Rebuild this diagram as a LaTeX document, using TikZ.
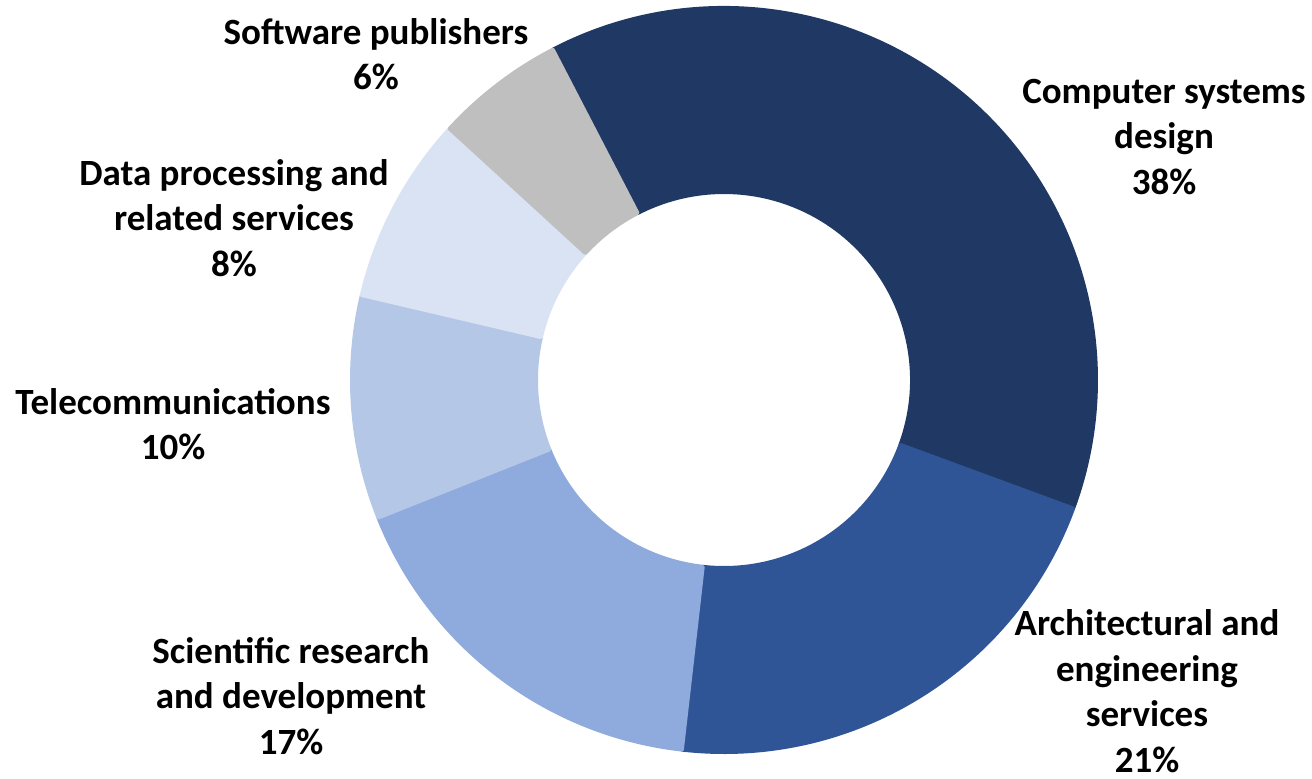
\documentclass[tikz,border=0pt]{standalone}
\usepackage{fontspec}
\setmainfont{Carlito}
\definecolor{csdblue}{HTML}{203864}
\definecolor{arcblue}{HTML}{2F5597}
\definecolor{sciblue}{HTML}{8FAADC}
\definecolor{telblue}{HTML}{B4C7E7}
\definecolor{datblue}{HTML}{DAE3F3}
\definecolor{swgray}{HTML}{BFBFBF}

\begin{document}
\begin{tikzpicture}[x=0.5pt,y=0.5pt,
    lbl/.style={align=center,inner sep=0pt,font=\fontsize{18.5}{22.8}\selectfont\bfseries},
    slice/.style={draw=white,line width=2pt,line join=round}]
            \useasboundingbox (0,0) rectangle (1312,778);
            \coordinate (c) at (724,398);
            % ring, clockwise from the top
            \fill[slice,csdblue] ([shift={(117.4:372)}]c) arc[start angle=117.4,end angle=-20.2,radius=186pt]
                -- ([shift={(-20.2:188)}]c) arc[start angle=-20.2,end angle=117.4,radius=94pt] -- cycle;
            \fill[slice,arcblue] ([shift={(-20.2:372)}]c) arc[start angle=-20.2,end angle=-96.5,radius=186pt]
                -- ([shift={(-96.5:188)}]c) arc[start angle=-96.5,end angle=-20.2,radius=94pt] -- cycle;
            \fill[slice,sciblue] ([shift={(-96.5:372)}]c) arc[start angle=-96.5,end angle=-158.3,radius=186pt]
                -- ([shift={(-158.3:188)}]c) arc[start angle=-158.3,end angle=-96.5,radius=94pt] -- cycle;
            \fill[slice,telblue] ([shift={(-158.3:372)}]c) arc[start angle=-158.3,end angle=-193.2,radius=186pt]
                -- ([shift={(-193.2:188)}]c) arc[start angle=-193.2,end angle=-158.3,radius=94pt] -- cycle;
            \fill[slice,datblue] ([shift={(-193.2:372)}]c) arc[start angle=-193.2,end angle=-222.5,radius=186pt]
                -- ([shift={(-222.5:188)}]c) arc[start angle=-222.5,end angle=-193.2,radius=94pt] -- cycle;
            \fill[slice,swgray] ([shift={(-222.5:372)}]c) arc[start angle=-222.5,end angle=-242.6,radius=186pt]
                -- ([shift={(-242.6:188)}]c) arc[start angle=-242.6,end angle=-222.5,radius=94pt] -- cycle;
            % labels
            \node[lbl] (csd) at (1164,641) {Computer systems\\design\\38\%};
            \node[lbl] (aes) at (1147,87) {Architectural and\\engineering\\services\\21\%};
            \node[lbl] (srd) at (291,82) {Scientific research\\and development\\17\%};
            \node[lbl] (tel) at (173,354) {Telecommunications\\10\%};
            \node[lbl] (dps) at (234,560) {Data processing and\\related services\\8\%};
            \node[lbl] (swp) at (376,724) {Software publishers\\6\%};
        \end{tikzpicture}
\end{document}
